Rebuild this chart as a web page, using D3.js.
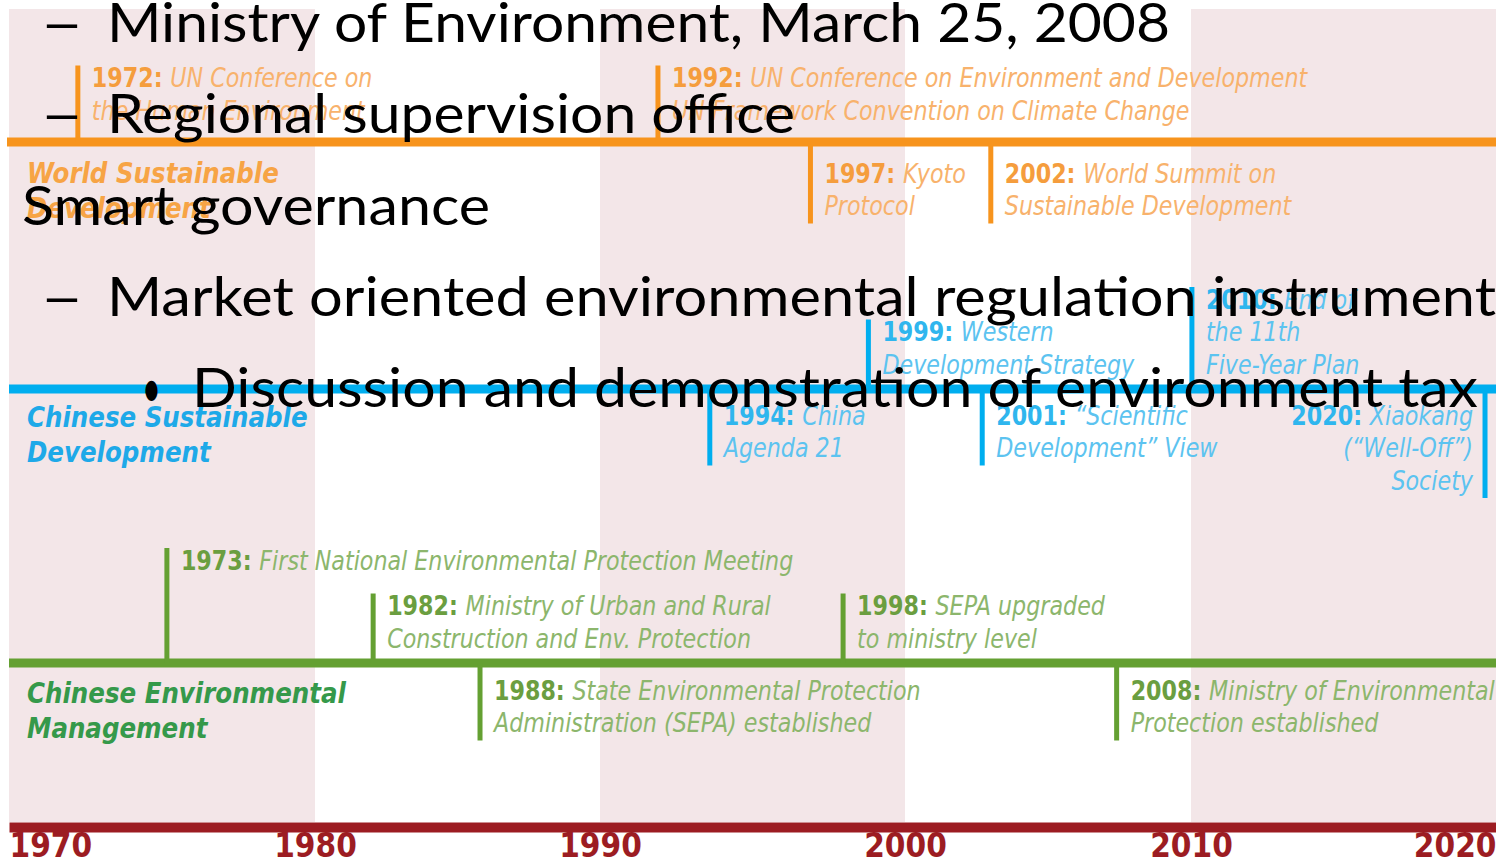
<!DOCTYPE html>
<html>
<head>
<meta charset="utf-8">
<script src="https://cdn.jsdelivr.net/npm/d3@7"></script>
<style>
  body { margin: 0; background: #fff; overflow: hidden; }
  svg { display: block; }
  .slide { font-family: Lato, "Open Sans", sans-serif; fill: #000; }
  .ev { font-family: "Liberation Sans Narrow", "DejaVu Sans Condensed", "DejaVu Sans", sans-serif; font-stretch: condensed; }
</style>
</head>
<body>
<svg width="1496" height="864"></svg>
<script>
// decades on the time axis
const decades = [1970, 1980, 1990, 2000, 2010, 2020];

// timeline names
const trackLabels = [
  ["World Sustainable", "Development"],
  ["Chinese Sustainable", "Development"],
  ["Chinese Environmental", "Management"]
];

// events; "at" = where the marker sits on the year axis in the picture
const worldEvents = [
  { year: "1972", at: 1972.25, side: "up", text: ["UN Conference on", "the Human Environment"] },
  { year: "1992", at: 1991.9, side: "up", text: ["UN Conference on Environment and Development", "UN Framework Convention on Climate Change"] },
  { year: "1997", at: 1996.9, side: "down", text: ["Kyoto", "Protocol"] },
  { year: "2002", at: 2003.0, side: "down", text: ["World Summit on", "Sustainable Development"] }
];
const chinaDevEvents = [
  { year: "1994", at: 1993.6, side: "down", text: ["China", "Agenda 21"] },
  { year: "1999", at: 1998.8, side: "up", text: ["Western", "Development Strategy"] },
  { year: "2001", at: 2002.7, side: "down", text: ["\u201CScientific", "Development\u201D View"] },
  { year: "2010", at: 2010.03, side: "up", text: ["End of", "the 11th", "Five-Year Plan"] },
  { year: "2020", at: 2019.64, side: "down", text: ["Xiaokang", "(\u201CWell-Off\u201D)", "Society"] }
];
const chinaEnvEvents = [
  { year: "1973", at: 1975.16, side: "up", text: ["First National Environmental Protection Meeting"] },
  { year: "1982", at: 1982.04, side: "up", text: ["Ministry of Urban and Rural", "Construction and Env. Protection"] },
  { year: "1988", at: 1985.79, side: "down", text: ["State Environmental Protection", "Administration (SEPA) established"] },
  { year: "1998", at: 1997.97, side: "up", text: ["SEPA upgraded", "to ministry level"] },
  { year: "2008", at: 2007.4, side: "down", text: ["Ministry of Environmental", "Protection established"] }
];

// slide text lying on top of the picture
const slideText = [
  "Ministry of Environment, March 25, 2008",
  "Regional supervision office",
  "Smart governance",
  "Market oriented environmental regulation instruments",
  "Discussion and demonstration of environment tax"
];
const slideLevels = [2, 2, 1, 2, 3];

const W = 1496;
const svg = d3.select("svg");

// the picture's decade bands are not quite even, hence the polylinear range
const x = d3.scaleLinear().domain(decades).range([9, 315, 600, 905, 1191, 1496]);
const axisY = 827;

// squeeze a text horizontally around its anchor x (stand-in for a condensed face)
const squeeze = (sel, ax, k) => sel.attr("transform", `translate(${ax},0) scale(${k},1) translate(${-ax},0)`);

// alternating decade bands
svg.append("g").selectAll("rect")
  .data(decades.filter((d, i) => i % 2 === 0 && i < decades.length - 1))
  .join("rect")
  .attr("x", d => x(d))
  .attr("width", d => x(d + 10) - x(d))
  .attr("y", 9)
  .attr("height", axisY - 5 - 9)
  .attr("fill", "#f3e6e8");

// bottom axis
const axis = svg.append("g")
  .attr("transform", `translate(0,${axisY})`)
  .call(d3.axisBottom(x).tickValues(decades).tickSize(0).tickSizeOuter(0).tickPadding(7).tickFormat(d3.format("d")));
axis.select(".domain").attr("stroke", "#9c1c22").attr("stroke-width", 10);
axis.selectAll("text")
  .attr("class", "ev")
  .attr("font-size", 33)
  .attr("font-weight", "bold")
  .attr("fill", "#9c1c22")
  .attr("text-anchor", (d, i) => i === 0 ? "start" : i === decades.length - 1 ? "end" : "middle");

const tracks = [
  { labels: trackLabels[0], events: worldEvents, y: 142, x0: 7, up: 22, down: 41, labelDy: 41,
    line: "#f7941d", yearC: "#f59d3d", descC: "#f8b26c", labelC: "#f7a445" },
  { labels: trackLabels[1], events: chinaDevEvents, y: 389, x0: 9, up: 15, down: 36, labelDy: 38,
    line: "#00aeef", yearC: "#2fb6ee", descC: "#5cc3f0", labelC: "#1ea9e8" },
  { labels: trackLabels[2], events: chinaEnvEvents, y: 663, x0: 9, up: 15, down: 37, labelDy: 40,
    line: "#64a032", yearC: "#6b9e40", descC: "#8cb66c", labelC: "#35994a" }
];
const lineH = 32.5;
const lift = { "1973": 78 };
const endAligned = ["2020"];

tracks.forEach(t => {
  const g = svg.append("g");
  g.append("line")
    .attr("x1", t.x0).attr("x2", W)
    .attr("y1", t.y).attr("y2", t.y)
    .attr("stroke", t.line).attr("stroke-width", 9);

  const lab = g.append("text").attr("class", "ev")
    .attr("font-size", 29).attr("font-weight", "bold").attr("font-style", "italic")
    .attr("fill", t.labelC)
    .call(squeeze, 27, 0.94);
  t.labels.forEach((s, i) => lab.append("tspan").attr("x", 27).attr("y", t.y + t.labelDy + i * 35).text(s));

  t.events.forEach(e => {
    const n = e.text.length;
    const first = e.side === "up"
      ? t.y - t.up - (n - 1) * lineH - (lift[e.year] || 0)
      : t.y + t.down;
    const last = first + (n - 1) * lineH;
    const px = x(e.at);
    g.append("line")
      .attr("x1", px).attr("x2", px)
      .attr("y1", e.side === "up" ? first - 22 : t.y)
      .attr("y2", e.side === "up" ? t.y : last + 8)
      .attr("stroke", t.line).attr("stroke-width", 5);

    const isEnd = endAligned.includes(e.year);
    const tx = isEnd ? px - 12 : px + 14;
    const txt = g.append("text").attr("class", "ev")
      .attr("font-size", 27)
      .attr("text-anchor", isEnd ? "end" : "start")
      .call(squeeze, tx, 0.915);
    e.text.forEach((s, i) => {
      const ts = txt.append("tspan").attr("x", tx).attr("y", first + i * lineH);
      if (i === 0) {
        ts.append("tspan").attr("font-weight", "bold").attr("fill", t.yearC).text(e.year + ": ");
        ts.append("tspan").attr("font-style", "italic").attr("fill", t.descC).text(s);
      } else {
        ts.attr("font-style", "italic").attr("fill", t.descC).text(s);
      }
    });
  });
});

// overlaid slide bullets
const levelX = { 1: { text: 22 }, 2: { mark: "\u2013", mx: 40, mw: 44, text: 107 }, 3: { mark: "\u2022", mx: 142, mw: 19, text: 192 } };
const slideRight = [1170, 795, 490, 1496, 1478];
const slide = svg.append("g").attr("class", "slide").attr("font-size", 54);
slideText.forEach((s, i) => {
  const lv = levelX[slideLevels[i]];
  const y = 42 + i * 91.3;
  if (lv.mark) {
    slide.append("text").attr("x", lv.mx).attr("y", y).attr("textLength", lv.mw)
      .attr("lengthAdjust", "spacingAndGlyphs").text(lv.mark);
  }
  const t = slide.append("text").attr("x", lv.text).attr("y", y).text(s);
  const node = t.node();
  const full = node.getComputedTextLength();
  // this line is cut by the right edge after "instrument"
  const seen = i === 3 ? node.getSubStringLength(0, s.length - 1) : full;
  const target = slideRight[i] - lv.text;
  t.attr("textLength", full * target / seen).attr("lengthAdjust", "spacingAndGlyphs");
});
</script>
</body>
</html>
